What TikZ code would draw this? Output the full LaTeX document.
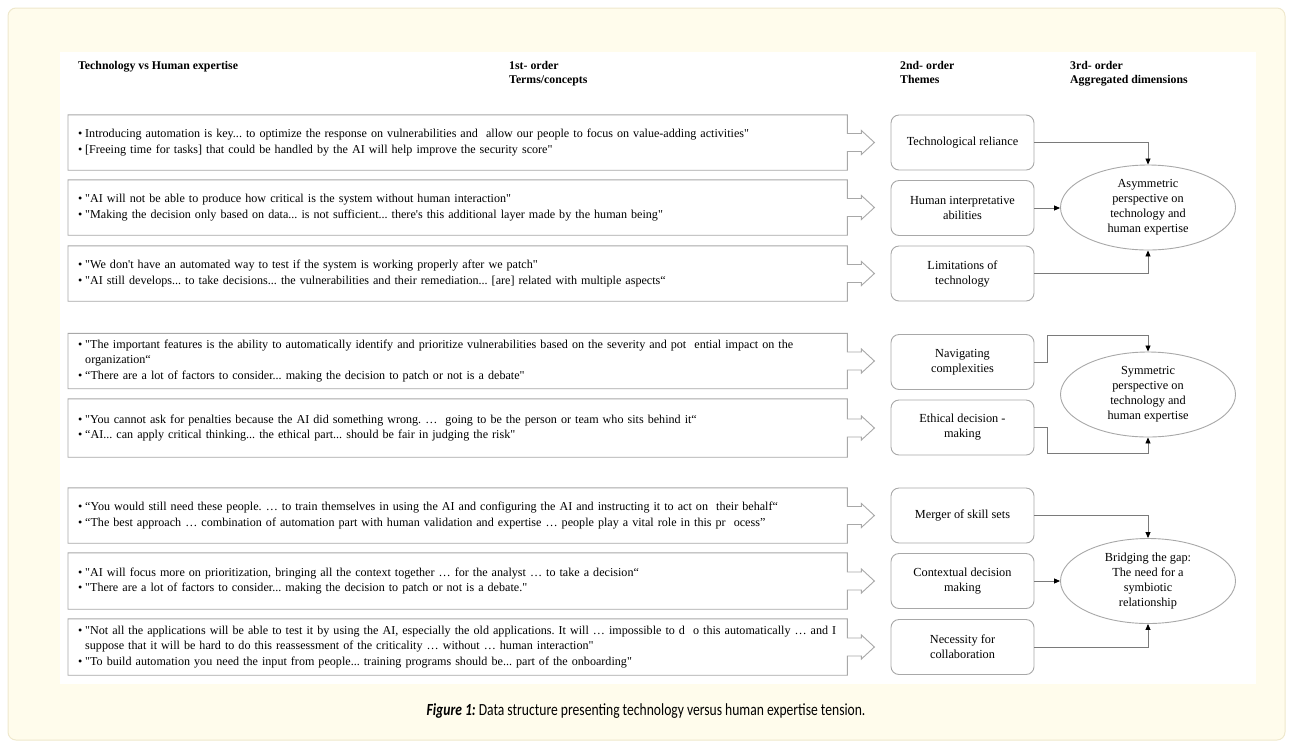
\documentclass[tikz,border=0pt]{standalone}
\usepackage{fontspec}
\setmainfont{Liberation Serif}
% plain family: keeps straight quotes and apostrophes as typed
\newfontfamily\bodyfont{Liberation Serif}
\newfontfamily\capfont[FakeStretch=0.8]{Carlito}
\usetikzlibrary{arrows.meta,shapes.geometric,calc}
\frenchspacing

\definecolor{cream}{HTML}{FFFCEC}
\definecolor{creamedge}{HTML}{EFE8CC}
\definecolor{boxline}{HTML}{A8A8A8}
\definecolor{linkline}{HTML}{7A7A7A}

% bullet line and its continuation (hanging indent)
\newcommand\qitem[1]{\makebox[7pt][l]{\textbullet}#1}
\newcommand\qcont[1]{\hspace*{7pt}#1}
% open outline of a quote box with the arrow stub on its right side
\newcommand\quoteoutline[1]{%
  \draw[boxline, line width=0.9pt, line join=miter]
    ($(#1.east)+(0,-9)$) -- (#1.north east) -- (#1.north west) -- (#1.south west)
    -- (#1.south east) -- ($(#1.east)+(0,9)$) -- ++(14,0) -- ++(0,3)
    -- ($(#1.east)+(27,0)$) -- ($(#1.east)+(14,-12)$) -- ++(0,3) -- cycle;}

\tikzset{
  quote/.style={anchor=west, minimum width=779pt, minimum height=55pt,
    inner xsep=10pt, inner ysep=0pt, text width=759pt, align=left,
    font=\bodyfont\fontsize{12.1}{15.5}\selectfont},
  theme/.style={draw=boxline, line width=0.9pt, rounded corners=8pt,
    minimum width=143pt, minimum height=55pt, align=center, inner sep=2pt,
    font=\bodyfont\fontsize{12.3}{15}\selectfont},
  dimension/.style={draw=boxline, line width=0.9pt, ellipse, minimum width=175pt,
    minimum height=85pt, inner sep=0pt, align=center,
    font=\bodyfont\fontsize{12.3}{15}\selectfont},
  header/.style={anchor=base west, font=\bodyfont\bfseries\fontsize{11.8}{14}\selectfont, inner sep=0pt},
  link/.style={draw=linkline, line width=0.8pt, -{Triangle[length=6pt,width=5pt,color=black]}}
}

\begin{document}
\begin{tikzpicture}[x=1pt,y=-1pt]
\useasboundingbox (0,0) rectangle (1293,748);

% page frame and white panel
\draw[creamedge, fill=cream, rounded corners=8pt, line width=1pt] (8,8) rectangle (1285,740);
\fill[white] (60,52) rectangle (1256,684);

% column headers
\node[header] (h0) at (78,69) {Technology vs Human expertise};
\node[header] (h1a) at (509,69) {1st- order};
\node[header] (h1b) at (509,83) {Terms/concepts};
\node[header] (h2a) at (900,69) {2nd- order};
\node[header] (h2b) at (900,83) {Themes};
\node[header] (h3a) at (1070,69) {3rd- order};
\node[header] (h3b) at (1070,83) {Aggregated dimensions};

% first-order quotes
\node[quote] (q1) at (68,142.5) {\qitem{Introducing automation is key... to optimize the response on vulnerabilities and \ allow our people to focus on value-adding activities"}\\
\qitem{[Freeing time for tasks] that could be handled by the AI will help improve the security score"}};
\node[quote] (q2) at (68,207.5) {\qitem{"AI will not be able to produce how critical is the system without human interaction"}\\
\qitem{"Making the decision only based on data... is not sufficient... there's this additional layer made by the human being"}};
\node[quote] (q3) at (68,273.5) {\qitem{"We don't have an automated way to test if the system is working properly after we patch"}\\
\qitem{"AI still develops... to take decisions... the vulnerabilities and their remediation... [are] related with multiple aspects“}};
\node[quote] (q4) at (68,361) {\qitem{"The important features is the ability to automatically identify and prioritize vulnerabilities based on the severity and pot \ ential impact on the}\\
\qcont{organization“}\\
\qitem{“There are a lot of factors to consider... making the decision to patch or not is a debate"}};
\node[quote, minimum height=58pt] (q5) at (68,428) {\qitem{"You cannot ask for penalties because the AI did something wrong. … \ going to be the person or team who sits behind it“}\\
\qitem{“AI... can apply critical thinking... the ethical part... should be fair in judging the risk"}};
\node[quote] (q6) at (68,515.5) {\qitem{“You would still need these people. … to train themselves in using the AI and configuring the AI and instructing it to act on \ their behalf“}\\
\qitem{“The best approach … combination of automation part with human validation and expertise … people play a vital role in this pr \ ocess”}};
\node[quote, minimum height=56pt] (q7) at (68,581) {\qitem{"AI will focus more on prioritization, bringing all the context together … for the analyst … to take a decision“}\\
\qitem{"There are a lot of factors to consider... making the decision to patch or not is a debate."}};
\node[quote, minimum height=56pt] (q8) at (68,647) {\qitem{"Not all the applications will be able to test it by using the AI, especially the old applications. It will … impossible to d \ o this automatically … and I}\\
\qcont{suppose that it will be hard to do this reassessment of the criticality … without … human interaction"}\\
\qitem{"To build automation you need the input from people... training programs should be... part of the onboarding"}};
\foreach \q in {q1,q2,q3,q4,q5,q6,q7,q8} {\quoteoutline{\q}}

% second-order themes
\node[theme] (t1) at (962.5,142.5) {Technological reliance};
\node[theme] (t2) at (962.5,208) {Human interpretative\\abilities};
\node[theme] (t3) at (962.5,273.5) {Limitations of\\technology};
\node[theme] (t4) at (962.5,362) {Navigating\\complexities};
\node[theme] (t5) at (962.5,427.5) {Ethical decision -\\making};
\node[theme] (t6) at (962.5,515.5) {Merger of skill sets};
\node[theme] (t7) at (962.5,581) {Contextual decision\\making};
\node[theme] (t8) at (962.5,647) {Necessity for\\collaboration};

% aggregated dimensions
\node[dimension] (e1) at (1148,207.5) {Asymmetric\\perspective on\\technology and\\human expertise};
\node[dimension] (e2) at (1148,394.5) {Symmetric\\perspective on\\technology and\\human expertise};
\node[dimension] (e3) at (1148,581) {Bridging the gap:\\The need for a\\symbiotic\\relationship};

% theme to dimension connectors
\coordinate (c4) at (1047,335);
\coordinate (c5) at (1047,453);
\draw[link] (t1.east) -| (e1.north);
\draw[link] (t2.east) -- (t2.east -| e1.west);
\draw[link] (t3.east) -| (e1.south);
\draw[link] (t4.east) -- (t4.east -| c4) -- (c4) -| (e2.north);
\draw[link] (t5.east) -- (t5.east -| c5) -- (c5) -| (e2.south);
\draw[link] (t6.east) -| (e3.north);
\draw[link] (t7.east) -- (e3.west);
\draw[link] (t8.east) -| (e3.south);

% caption
\node[font=\capfont\fontsize{17}{20}\selectfont, inner sep=0pt] (cap) at (646,711)
  {\textbf{\textit{Figure 1:}} Data structure presenting technology versus human expertise tension.};
\end{tikzpicture}
\end{document}
